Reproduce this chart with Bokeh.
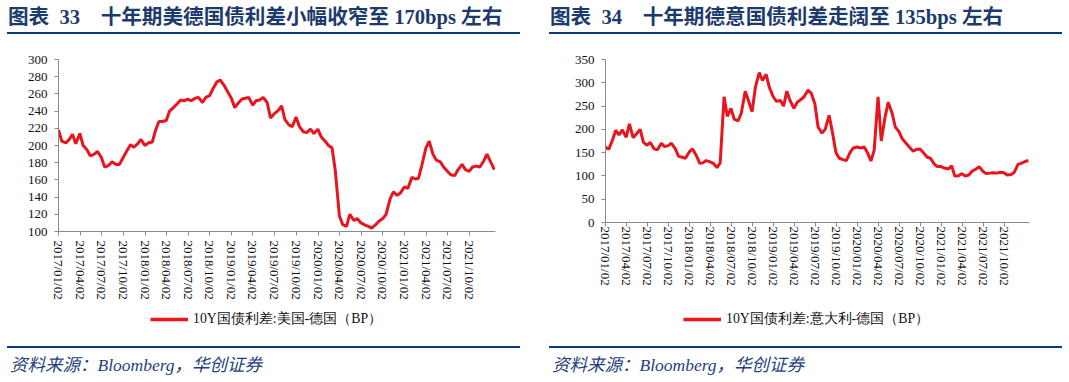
import math
import pandas as pd
from bokeh.plotting import figure
from bokeh.models import (Range1d, FixedTicker, DatetimeTickFormatter, Legend,
                          LegendItem, Div, Spacer, ColumnDataSource)
from bokeh.layouts import row, column
from bokeh.embed import file_html
from bokeh.resources import INLINE

# ---------------- data (semi-monthly readings, from 2017-01-01) ----------------
us_de_spread = [
    218, 205, 203, 207, 213, 202, 214, 200, 195, 188, 190, 193,
    186, 175, 177, 181, 178, 178, 186, 193, 201, 198, 202, 207,
    200, 203, 204, 218, 228, 228, 229, 240, 244, 248, 253, 252,
    254, 252, 255, 256, 250, 256, 258, 266, 274, 276, 270, 263,
    255, 244, 250, 254, 255, 256, 247, 252, 253, 256, 250, 232,
    237, 240, 246, 230, 224, 222, 233, 222, 216, 215, 219, 214,
    219, 210, 205, 200, 197, 170, 118, 108, 106, 120, 113, 115,
    110, 108, 106, 104, 108, 112, 115, 120, 138, 146, 142, 145,
    152, 150, 163, 161, 162, 177, 197, 205, 190, 183, 181, 175,
    170, 166, 165, 172, 178, 172, 170, 175, 176, 175, 182, 190,
    180, 172,
]
it_de_spread = [
    162, 157, 178, 198, 188, 199, 183, 212, 182, 190, 200, 172,
    166, 172, 158, 156, 170, 163, 165, 170, 158, 142, 140, 138,
    152, 158, 143, 127, 128, 133, 130, 127, 118, 128, 270, 228,
    245, 222, 218, 235, 282, 262, 238, 290, 322, 305, 318, 290,
    270, 260, 262, 250, 282, 262, 245, 258, 264, 270, 284, 278,
    255, 205, 192, 200, 230, 195, 150, 138, 135, 133, 150, 160,
    162, 160, 162, 150, 132, 155, 270, 175, 225, 258, 235, 205,
    195, 180, 170, 162, 153, 157, 158, 150, 140, 138, 126, 120,
    120, 117, 115, 122, 100, 100, 105, 100, 102, 110, 115, 120,
    110, 105, 106, 107, 106, 108, 107, 102, 103, 108, 125, 127,
    131, 133,
]
quarter_ticks = [
    "2017-01-02", "2017-04-02", "2017-07-02", "2017-10-02",
    "2018-01-02", "2018-04-02", "2018-07-02", "2018-10-02",
    "2019-01-02", "2019-04-02", "2019-07-02", "2019-10-02",
    "2020-01-02", "2020-04-02", "2020-07-02", "2020-10-02",
    "2021-01-02", "2021-04-02", "2021-07-02", "2021-10-02",
]
us_ticks = [100, 120, 140, 160, 180, 200, 220, 240, 260, 280, 300]
it_ticks = [0, 50, 100, 150, 200, 250, 300, 350]

title_left = "图表&nbsp;&nbsp;33&nbsp;&nbsp;&nbsp;&nbsp;十年期美德国债利差小幅收窄至 170bps 左右"
title_right = "图表&nbsp;&nbsp;34&nbsp;&nbsp;&nbsp;&nbsp;十年期德意国债利差走阔至 135bps 左右"
legend_left = "10Y国债利差:美国-德国（BP）"
legend_right = "10Y国债利差:意大利-德国（BP）"
source_text = "资料来源：Bloomberg，华创证券"

RED = "#E8141E"
NAVY_LINE = "#0d3b7a"
NAVY_TEXT = "#1c3b6c"
SERIF = "Liberation Serif"

tick_ms = [pd.Timestamp(t).value / 1e6 for t in quarter_ticks]
fmt = "%Y/%m/%d"
PANEL_W = 513
CHART_H = 271
LEG_H = 41


def make_source(values):
    dates = pd.date_range("2017-01-01", periods=len(values), freq="SMS")
    return ColumnDataSource(data=dict(date=dates, val=values))


def make_chart(src, yticks, ymin, ymax, bl, br, bt, bb, standoff):
    p = figure(width=PANEL_W, height=CHART_H, x_axis_type="datetime",
               x_range=Range1d(pd.Timestamp("2017-01-01"), pd.Timestamp("2022-01-20")),
               y_range=Range1d(ymin, ymax),
               output_backend="svg", toolbar_location=None,
               min_border_left=bl, min_border_right=br,
               min_border_top=bt, min_border_bottom=bb)
    p.outline_line_color = None
    p.grid.visible = False
    p.line(x="date", y="val", source=src, line_color=RED, line_width=3)

    p.xaxis.ticker = FixedTicker(ticks=tick_ms)
    p.xaxis.formatter = DatetimeTickFormatter(
        milliseconds=fmt, seconds=fmt, minsec=fmt, minutes=fmt, hourmin=fmt,
        hours=fmt, days=fmt, months=fmt, years=fmt)
    p.xaxis.major_label_orientation = -math.pi / 2
    p.xaxis.major_label_standoff = standoff
    p.yaxis.ticker = FixedTicker(ticks=yticks)
    p.yaxis.major_label_standoff = 7
    for ax in (p.xaxis, p.yaxis):
        ax.axis_line_color = "#8a8a8a"
        ax.major_tick_line_color = "#8a8a8a"
        ax.minor_tick_line_color = None
        ax.major_tick_in = 0
        ax.major_tick_out = 4
        ax.major_label_text_font = SERIF
        ax.major_label_text_font_size = "13px"
        ax.major_label_text_color = "#111111"
    return p


def make_legend(src, label, lx, ly):
    # a strip below the chart holding only the legend; its range keeps the
    # series itself out of view so only the legend swatch shows
    q = figure(width=PANEL_W, height=LEG_H, output_backend="svg", toolbar_location=None,
               x_axis_location=None, y_axis_location=None,
               x_range=Range1d(0, 1), y_range=Range1d(0, 1),
               min_border=0, min_border_left=0, min_border_right=0,
               min_border_top=0, min_border_bottom=0)
    q.outline_line_color = None
    q.grid.visible = False
    r = q.line(x="date", y="val", source=src, line_color=RED, line_width=3.5)
    leg = Legend(items=[LegendItem(label=label, renderers=[r])],
                 location=(lx, ly), orientation="horizontal",
                 padding=0, margin=0, spacing=0,
                 border_line_color=None, background_fill_alpha=0,
                 glyph_width=38, glyph_height=20, label_height=20,
                 label_standoff=5, label_text_font=SERIF,
                 label_text_font_size="13.8px", label_text_color="#111111")
    q.add_layout(leg)
    return q


def title_div(text, w, pad):
    html = ('<div style="width:%dpx;height:34px;box-sizing:border-box;padding-top:6px;'
            'padding-left:%dpx;line-height:22px;'
            'border-bottom:2px solid %s;font-family:\'Liberation Serif\',\'Noto Sans CJK SC\',serif;'
            'font-weight:bold;font-size:20.6px;color:%s;white-space:nowrap;'
            'overflow:visible;">%s</div>') % (w, pad, NAVY_LINE, NAVY_TEXT, text)
    return Div(text=html, width=w, height=34, margin=0)


def source_div(text, w, pad):
    html = ('<div style="width:%dpx;height:36px;box-sizing:border-box;'
            'border-top:2px solid %s;padding-top:8px;padding-left:%dpx;'
            'font-family:\'Liberation Serif\',\'Noto Sans CJK SC\',serif;font-style:italic;'
            'font-size:17.5px;line-height:18px;color:#1f3f80;white-space:nowrap;">%s</div>'
            ) % (w, NAVY_LINE, pad, text)
    return Div(text=html, width=w, height=36, margin=0)


src_us = make_source(us_de_spread)
src_it = make_source(it_de_spread)
p_left = make_chart(src_us, us_ticks, 100, 300, 51, 25, 25, 74, 5)
p_right = make_chart(src_it, it_ticks, 0, 350, 56, 33, 25, 83, 0)
l_left = make_legend(src_us, legend_left, 92, 17)
l_right = make_legend(src_it, legend_right, 78, 17)

left_col = column(title_div(title_left, PANEL_W, 1), p_left, l_left,
                  source_div(source_text, PANEL_W, 3), spacing=0)
right_col = column(title_div(title_right, PANEL_W, 1), p_right, l_right,
                   source_div(source_text, PANEL_W, 3), spacing=0)
layout = row(Spacer(width=7, height=10), left_col, Spacer(width=29, height=10), right_col,
             spacing=0)

open("out.html", "w").write(file_html(layout, INLINE))
